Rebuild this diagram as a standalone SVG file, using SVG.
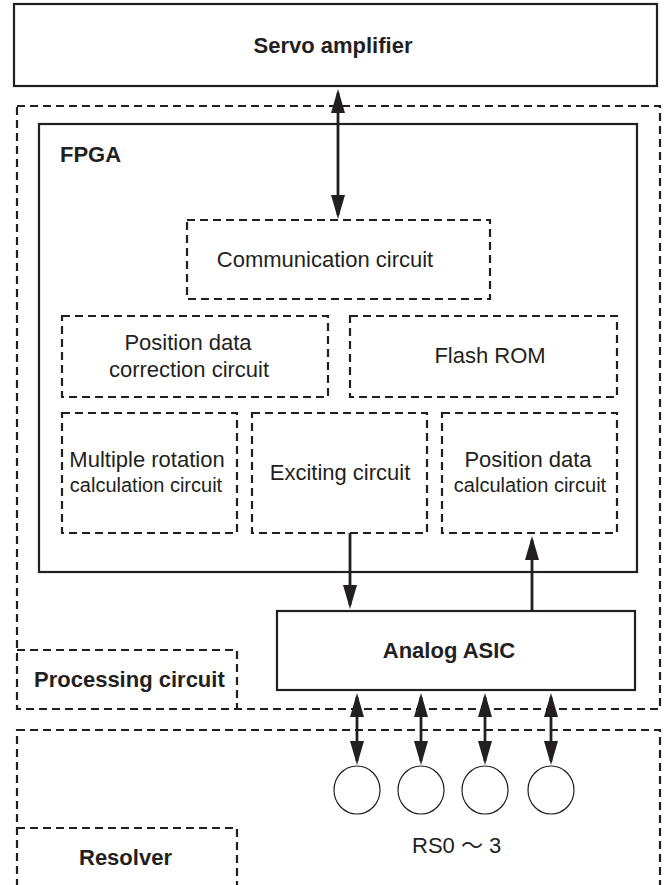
<svg xmlns="http://www.w3.org/2000/svg" width="666" height="885" viewBox="0 0 666 885">
<style>
.solid{fill:none;stroke:#231f20;stroke-width:2.2}
.dash{fill:none;stroke:#231f20;stroke-width:2.2;stroke-dasharray:8 5}
.b{font-family:"Liberation Sans",Arial,sans-serif;font-weight:bold;font-size:22px;fill:#231f20}
.r{font-family:"Liberation Sans",Arial,sans-serif;font-size:22px;fill:#231f20}
.s{font-family:"Liberation Sans",Arial,sans-serif;font-size:20px;fill:#231f20}
.m{text-anchor:middle}
.conn{stroke:#231f20;stroke-width:2.8;fill:none;marker-end:url(#ah)}
.both{marker-start:url(#ah)}
.circ{fill:#fff;stroke:#231f20;stroke-width:1.2}
</style>
<defs>
<marker id="ah" viewBox="0 0 24 14" refX="20" refY="7" markerWidth="24" markerHeight="14" markerUnits="userSpaceOnUse" orient="auto-start-reverse">
<path d="M0,0 L24,7 L0,14 z" fill="#231f20"/>
</marker>
</defs>
<rect width="666" height="885" fill="#fff"/>

<g id="servo">
<rect class="solid" x="14" y="4" width="643" height="82"/>
<text class="b m" x="333" y="53">Servo amplifier</text>
</g>

<g id="processing">
<rect class="dash" x="17" y="106" width="643" height="603"/>
<path class="dash" d="M17,650 H237 V709"/>
<text class="b" x="34" y="687">Processing circuit</text>
</g>

<g id="fpga">
<rect class="solid" x="39" y="124" width="598" height="448"/>
<text class="b" x="60" y="162">FPGA</text>
</g>

<g id="comm">
<rect class="dash" x="187" y="220" width="303" height="79"/>
<text class="r m" x="325" y="267">Communication circuit</text>
</g>

<g id="poscorr">
<rect class="dash" x="62" y="316" width="266" height="81"/>
<text class="r m" x="188" y="350">Position data</text>
<text class="r m" x="189" y="377">correction circuit</text>
</g>

<g id="flash">
<rect class="dash" x="350" y="316" width="267" height="81"/>
<text class="r m" x="490" y="363">Flash ROM</text>
</g>

<g id="multirot">
<rect class="dash" x="62" y="413" width="175" height="120"/>
<text class="r m" x="147" y="467">Multiple rotation</text>
<text class="s m" x="146" y="492">calculation circuit</text>
</g>

<g id="exciting">
<rect class="dash" x="252" y="413" width="175" height="120"/>
<text class="r m" x="340" y="480">Exciting circuit</text>
</g>

<g id="poscalc">
<rect class="dash" x="442" y="413" width="175" height="120"/>
<text class="r m" x="528" y="467">Position data</text>
<text class="s m" x="530" y="492">calculation circuit</text>
</g>

<g id="asic">
<rect class="solid" x="277" y="611" width="358" height="79"/>
<text class="b m" x="449" y="658">Analog ASIC</text>
</g>

<g id="resolver">
<rect class="dash" x="17" y="730" width="643" height="170"/>
<path class="dash" d="M17,828 H237 V890"/>
<text class="b" x="79" y="865">Resolver</text>
<text class="r" x="412" y="853" style="font-family:'Liberation Sans','Noto Sans CJK JP',sans-serif">RS0 〜 3</text>
</g>

<g id="coils">
<ellipse class="circ" cx="357" cy="790" rx="23" ry="24"/>
<ellipse class="circ" cx="421" cy="790" rx="23" ry="24"/>
<ellipse class="circ" cx="485" cy="790" rx="23" ry="24"/>
<ellipse class="circ" cx="551" cy="790" rx="23" ry="24"/>
</g>

<g id="connectors">
<line class="conn both" x1="338" y1="93" x2="338" y2="215"/>
<line class="conn" x1="350" y1="533" x2="350" y2="605"/>
<line class="conn" x1="532" y1="611" x2="532" y2="540"/>
<line class="conn both" x1="357" y1="697" x2="357" y2="761"/>
<line class="conn both" x1="421" y1="697" x2="421" y2="761"/>
<line class="conn both" x1="485" y1="697" x2="485" y2="761"/>
<line class="conn both" x1="551" y1="697" x2="551" y2="761"/>
</g>
</svg>
